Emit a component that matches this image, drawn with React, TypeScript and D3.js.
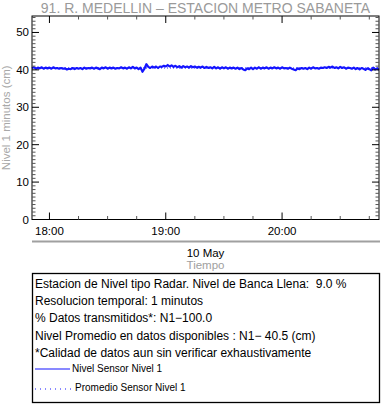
import React from "react";
import * as d3 from "d3";

const title = "91. R. MEDELLIN \u2013 ESTACION METRO SABANETA";
const yLabel = "Nivel 1 minutos (cm)";
const xDateLabel = "10 May";
const xTitle = "Tiempo";
const startTime = new Date(2000, 4, 10, 17, 51);
const endTime = new Date(2000, 4, 10, 20, 50);
const yDomain = [0, 54.4];
const yTicks = [0, 10, 20, 30, 40, 50];
const majorXTicks = [
  new Date(2000, 4, 10, 18, 0),
  new Date(2000, 4, 10, 19, 0),
  new Date(2000, 4, 10, 20, 0),
];
const averageLevel = 40.5;
const levels = [
  40.5, 40.7, 40.3, 40.6, 40.4, 40.7, 40.3, 40.6, 40.4, 40.6, 40.3, 40.7, 40.4, 40.5, 40.3,
  40.5, 40.3, 40.4, 40.1, 40.3, 40.2, 40.5, 40.2, 40.5, 40.3, 40.5, 40.2, 40.6, 40.3, 40.5,
  40.4, 40.6, 40.3, 40.6, 40.4, 40.2, 40.6, 40.4, 40.7, 40.3, 40.6, 40.4, 40.6, 40.3, 40.5,
  40.4, 40.7, 40.4, 40.6, 40.3, 40.7, 40.4, 40.8, 40.4, 40.6, 40.2, 40.6, 39.5, 40.3, 41.5,
  40.8, 40.5, 40.9, 40.6, 40.9, 40.5, 40.9, 40.8, 41.1, 40.9, 41.3, 40.9, 41.2, 40.8, 41.1,
  40.7, 41.0, 40.6, 41.0, 40.7, 40.9, 40.6, 41.0, 40.7, 40.9, 40.6, 40.8, 40.6, 40.9, 40.5,
  40.8, 40.5, 40.7, 40.4, 40.8, 40.4, 40.7, 40.3, 40.7, 40.4, 40.7, 40.3, 40.6, 40.4, 40.6,
  40.3, 40.6, 40.2, 40.5, 40.1, 39.9, 40.4, 40.2, 40.6, 40.2, 40.6, 40.3, 40.7, 40.3, 40.6,
  40.4, 40.7, 40.3, 40.6, 40.4, 40.7, 40.4, 40.6, 40.3, 40.7, 40.4, 40.5, 40.3, 40.6, 40.3,
  40.1, 39.9, 40.4, 40.2, 40.5, 40.3, 40.5, 40.2, 40.6, 40.3, 40.7, 40.4, 40.5, 40.3, 40.6,
  40.5, 40.7, 40.5, 40.8, 40.6, 40.9, 40.5, 40.7, 40.4, 40.8, 40.5, 40.7, 40.3, 40.6, 40.5,
  40.3, 40.6, 40.2, 40.5, 40.1, 40.5, 40.3, 40.0, 40.4, 40.2, 39.9, 40.6, 40.1, 40.4, 40.0,
];
const infoLines = [
  "Estacion de Nivel tipo Radar. Nivel de Banca Llena:  9.0 %",
  "Resolucion temporal: 1 minutos",
  "% Datos transmitidos*: N1\u2212100.0",
  "Nivel Promedio en datos disponibles : N1\u2212 40.5 (cm)",
  "*Calidad de datos aun sin verificar exhaustivamente",
];
const legendItems = ["Nivel Sensor Nivel 1", "Promedio Sensor Nivel 1"];

const W = 382;
const H = 404;
const L = 32;
const R = 379;
const T = 16;
const B = 219.5;
const FONT = "'Liberation Sans', Arial, Helvetica, sans-serif";
const BLUE = "#1414ff";

export default function App() {
  const x = d3.scaleTime().domain([startTime, endTime]).range([L, R]);
  const y = d3.scaleLinear().domain(yDomain).range([B, T]);
  const data = levels.map((v, i) => ({ t: d3.timeMinute.offset(startTime, i), v }));
  const line = d3
    .line<{ t: Date; v: number }>()
    .x((d) => x(d.t))
    .y((d) => y(d.v));
  const minorY = d3.range(0, 55, 1).filter((v) => v % 10 !== 0);
  const minorX = d3.timeMinute
    .every(15)!
    .range(startTime, endTime)
    .filter((d) => d.getMinutes() !== 0);

  return (
    <svg
      width={W}
      height={H}
      style={{ position: "absolute", left: 0, top: 0, background: "#fff" }}
      fontFamily={FONT}
    >
      <text x={(L + R) / 2} y={13} textAnchor="middle" fontSize={14} fill="#9a9a9a">
        {title}
      </text>
      {/* data */}
      <path
        d={line(data) || ""}
        fill="none"
        stroke={BLUE}
        strokeWidth={2.2}
        strokeLinejoin="round"
      />
      <line
        x1={L}
        x2={R}
        y1={y(averageLevel)}
        y2={y(averageLevel)}
        stroke={BLUE}
        strokeWidth={1}
        strokeDasharray="1,2"
      />
      {/* frame */}
      <rect x={L} y={T} width={R - L} height={B - T} fill="none" stroke="#000" strokeWidth={1} />
      {/* y ticks */}
      {yTicks.map((v) => (
        <g key={"y" + v}>
          <line x1={L} x2={L + 7} y1={y(v)} y2={y(v)} stroke="#000" />
          <line x1={R - 7} x2={R} y1={y(v)} y2={y(v)} stroke="#000" />
          <text x={L - 3} y={y(v) + 4} textAnchor="end" fontSize={11.5} fill="#000">
            {v}
          </text>
        </g>
      ))}
      {minorY.map((v) => (
        <g key={"my" + v}>
          <line x1={L} x2={L + 3.5} y1={y(v)} y2={y(v)} stroke="#555" />
          <line x1={R - 3.5} x2={R} y1={y(v)} y2={y(v)} stroke="#555" />
        </g>
      ))}
      {/* x ticks */}
      {majorXTicks.map((d, i) => (
        <g key={"x" + i}>
          <line x1={x(d)} x2={x(d)} y1={B} y2={B - 7} stroke="#000" />
          <line x1={x(d)} x2={x(d)} y1={T} y2={T + 7} stroke="#000" />
          <text x={x(d)} y={235} textAnchor="middle" fontSize={11.5} fill="#000">
            {d3.timeFormat("%H:%M")(d)}
          </text>
        </g>
      ))}
      {minorX.map((d, i) => (
        <g key={"mx" + i}>
          <line x1={x(d)} x2={x(d)} y1={B} y2={B - 3.5} stroke="#555" />
          <line x1={x(d)} x2={x(d)} y1={T} y2={T + 3.5} stroke="#555" />
        </g>
      ))}
      <text
        transform={`translate(10,${(T + B) / 2}) rotate(-90)`}
        textAnchor="middle"
        fontSize={11.5}
        fill="#a8a8a8"
      >
        {yLabel}
      </text>
      <line x1={L} x2={R + 1} y1={241.5} y2={241.5} stroke="#a0a0a0" strokeWidth={2} />
      <text x={(L + R) / 2} y={257} textAnchor="middle" fontSize={11.5} fill="#000">
        {xDateLabel}
      </text>
      <text x={(L + R) / 2} y={269} textAnchor="middle" fontSize={11.5} fill="#a0a0a0">
        {xTitle}
      </text>
      {/* info box */}
      <rect x={32.5} y={273.5} width={347} height={129} fill="none" stroke="#000" strokeWidth={1.3} />
      {infoLines.map((s, i) => (
        <text
          key={"i" + i}
          x={35}
          y={288 + i * 17.2}
          fontSize={12}
          fill="#000"
          style={{ whiteSpace: "pre" }}
        >
          {s}
        </text>
      ))}
      <line x1={35} x2={70} y1={369} y2={369} stroke={BLUE} strokeWidth={1.2} />
      <text x={72} y={372} fontSize={10} fill="#000">
        {legendItems[0]}
      </text>
      <line x1={35} x2={72} y1={389} y2={389} stroke={BLUE} strokeWidth={1.2} strokeDasharray="1,4" />
      <text x={75} y={391} fontSize={10} fill="#000">
        {legendItems[1]}
      </text>
    </svg>
  );
}
